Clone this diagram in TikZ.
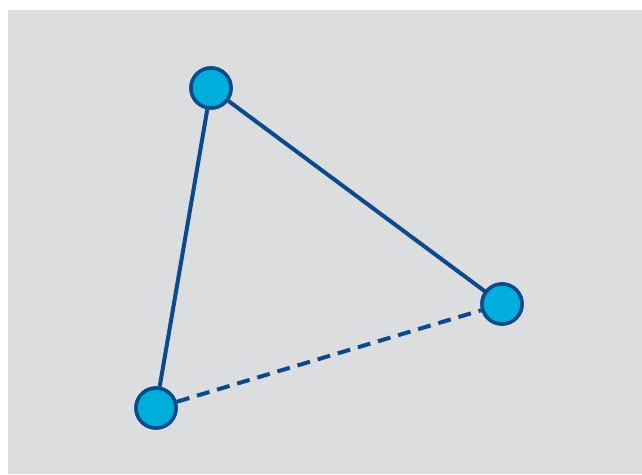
\documentclass[tikz,border=0pt]{standalone}
\begin{document}
\begin{tikzpicture}[x=1pt,y=-1pt,
  vertex/.style={circle,draw=edgeblue,fill=nodecyan,line width=3.5pt,minimum size=40pt,inner sep=0pt},
  link/.style={draw=edgeblue,line width=4pt},
  dashlink/.style={link,dash pattern=on 13pt off 8pt}]
\definecolor{bg}{HTML}{DCDDDF}
\definecolor{nodecyan}{HTML}{00AEDB}
\definecolor{edgeblue}{HTML}{0B4A8B}
\useasboundingbox (0,0) rectangle (642,474);
\fill[bg] (8,10) rectangle (642,474);
\node[vertex] (a) at (211,88) {};
\node[vertex] (b) at (156,408) {};
\node[vertex] (c) at (502,304) {};
\draw[link] (a) -- (b);
\draw[link] (a) -- (c);
\draw[dashlink] (b) -- (c);
\node[vertex] at (a) {};
\node[vertex] at (b) {};
\node[vertex] at (c) {};
\end{tikzpicture}
\end{document}
